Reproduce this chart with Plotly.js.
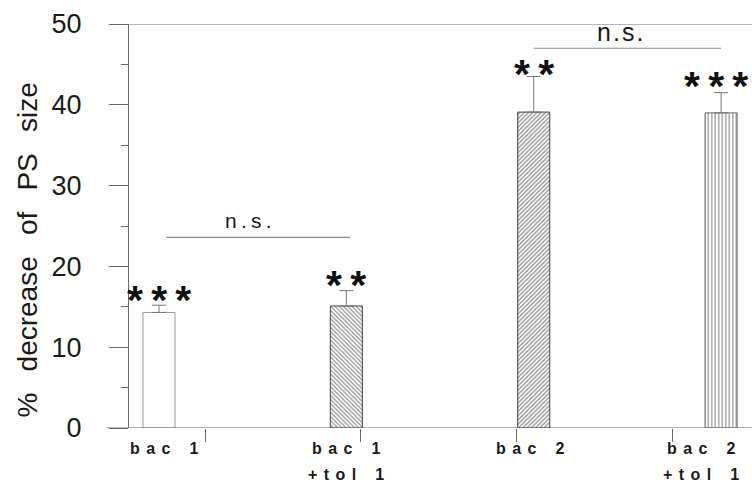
<!DOCTYPE html>
<html>
<head>
<meta charset="utf-8">
<script src="https://cdn.plot.ly/plotly-3.0.1.min.js"></script>
<style>html,body{margin:0;padding:0;background:#fff;}#chart{width:752px;height:485px;}</style>
</head>
<body>
<div id="chart"></div>
<script>
// ---- data ----
const categories = ['bac 1', 'bac 1 +tol 1', 'bac 2', 'bac 2 +tol 1'];
const labelLine1 = ['bac 1', 'bac 1', 'bac 2', 'bac 2'];
const labelLine2 = ['', '+tol 1', '', '+tol 1'];
const values = [14.3, 15.1, 39.1, 39.0];
const errorsUp = [0.9, 1.9, 4.4, 2.5];
const stars = ['***', '**', '**', '***'];
const starY = [17.1, 18.9, 45.0, 43.6];
const sigFrom = [0.04, 2.0];
const sigTo = [1.02, 3.0];
const sigY = [23.6, 47.0];
const sigText = ['n.s.', 'n.s.'];
const axisTickPos = [0.246, 1.073, 1.906, 2.739];
const yTicks = [0, 10, 20, 30, 40, 50];

// ---- styling ----
const FONT = 'Liberation Sans, Arial, Helvetica, sans-serif';
const AX = '#6a6a6a';
const xpos = categories.map((c, i) => i);
const patShape = ['', '\\', '/', '|'];
const patFg = ['#333', '#2a2a2a', '#2a2a2a', '#444'];
const patSize = [3, 3, 3, 3.5];
const patSolid = [0.4, 0.42, 0.45, 0.4];
const lineCol = ['#9a9a9a', '#444', '#444', '#666'];

function spaced(s, sep) {
  return s.split('').map(ch => ch === ' ' ? sep : ch).join(sep);
}

const traces = xpos.map((x, i) => {
  const marker = {color: '#ffffff', line: {color: lineCol[i], width: 1}};
  if (patShape[i]) {
    marker.pattern = {shape: patShape[i], fgcolor: patFg[i], bgcolor: '#ffffff',
      size: patSize[i], solidity: patSolid[i], fillmode: 'overlay'};
  }
  return {
    type: 'bar', name: categories[i],
    x: [x], y: [values[i]], width: 0.171,
    marker: marker,
    error_y: {type: 'data', symmetric: false, array: [errorsUp[i]], arrayminus: [0],
      color: '#777', thickness: 1, width: 7},
    hoverinfo: 'skip'
  };
});

const annotations = [];
// y title
annotations.push({
  xref: 'paper', yref: 'paper', x: 0, y: 0.5, xshift: -120, yshift: -24,
  text: '%\u00a0\u00a0\u2009decrease\u00a0\u00a0\u2009of\u00a0\u00a0\u2009PS\u00a0\u00a0\u2009size',
  textangle: -90, showarrow: false,
  font: {family: FONT, size: 28, color: '#1a1a1a'}
});
// category labels and stars
const labelShift = [6, 0, -3, -20];
const starShift = [0, 0, 0, -5];
const SEP = '\u2009\u2009';
xpos.forEach((x, i) => {
  annotations.push({
    xref: 'x', yref: 'paper', x: x, y: 0, yanchor: 'middle', xshift: labelShift[i], yshift: -20,
    text: spaced(labelLine1[i], SEP), showarrow: false,
    font: {family: FONT, size: 16, color: '#1a1a1a', weight: 'bold'}
  });
  if (labelLine2[i]) {
    annotations.push({
      xref: 'x', yref: 'paper', x: x, y: 0, yanchor: 'middle', xshift: labelShift[i], yshift: -46,
      text: spaced(labelLine2[i], SEP), showarrow: false,
      font: {family: FONT, size: 16, color: '#1a1a1a', weight: 'bold'}
    });
  }
  annotations.push({
    xref: 'x', yref: 'y', x: x, y: starY[i], yanchor: 'middle', yshift: -10, xshift: starShift[i],
    text: spaced(stars[i], '\u2009'), showarrow: false,
    font: {family: FONT, size: 41, color: '#111', weight: 'bold'}
  });
});
// significance brackets
const shapes = [];
sigFrom.forEach((x0, i) => {
  shapes.push({type: 'line', xref: 'x', yref: 'y', x0: x0, x1: sigTo[i], y0: sigY[i], y1: sigY[i],
    line: {color: '#8a8a8a', width: 1.2}});
  annotations.push({
    xref: 'x', yref: 'y', x: (x0 + sigTo[i]) / 2, y: sigY[i], yanchor: 'bottom',
    xshift: i === 0 ? -10 : -7, yshift: i === 0 ? 3 : 0,
    text: spaced(sigText[i], i === 0 ? '\u2009' : '\u200a'), showarrow: false,
    font: {family: FONT, size: i === 0 ? 21 : 25, color: '#1a1a1a'}
  });
});
// baseline and top frame line (extend left of the y axis)
shapes.push({type: 'line', xref: 'paper', yref: 'y', x0: -0.0353, x1: 1, y0: 0, y1: 0,
  line: {color: AX, width: 1}});
shapes.push({type: 'line', xref: 'paper', yref: 'y', x0: -0.0305, x1: 1, y0: 50, y1: 50,
  line: {color: AX, width: 1}});

const layout = {
  width: 752, height: 485,
  margin: {l: 129, r: 0, t: 24, b: 57, pad: 0},
  paper_bgcolor: '#fff', plot_bgcolor: '#fff',
  showlegend: false, barmode: 'overlay',
  xaxis: {
    range: [-0.16, 3.165], showgrid: false, zeroline: false, showline: false,
    tickmode: 'array', tickvals: axisTickPos, ticktext: axisTickPos.map(() => ''),
    ticks: 'outside', ticklen: 13, tickcolor: AX, tickwidth: 1, fixedrange: true
  },
  yaxis: {
    range: [0, 50], showgrid: false, zeroline: false,
    showline: true, linecolor: AX, linewidth: 1,
    tickmode: 'array', tickvals: yTicks, ticktext: yTicks.map(String),
    ticks: 'outside', ticklen: 19, tickcolor: AX, tickwidth: 1,
    minor: {dtick: 5, tick0: 0, ticks: 'outside', ticklen: 7, tickcolor: AX, tickwidth: 1},
    ticklabelstandoff: 22,
    tickfont: {family: FONT, size: 27, color: '#1a1a1a'}, fixedrange: true
  },
  annotations: annotations,
  shapes: shapes
};

Plotly.newPlot('chart', traces, layout, {displayModeBar: false, staticPlot: true});
</script>
</body>
</html>
